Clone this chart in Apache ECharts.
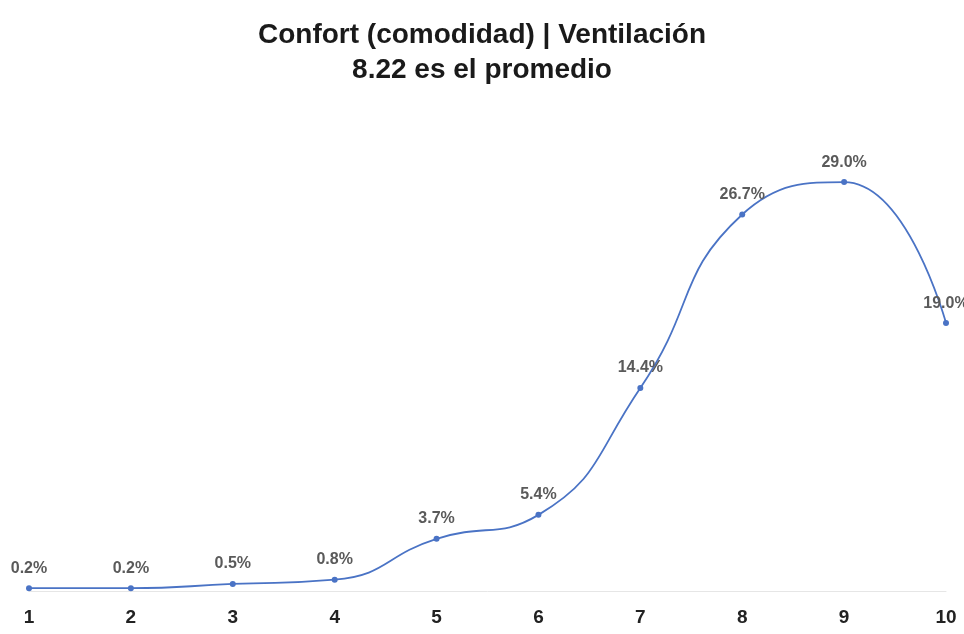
<!DOCTYPE html>
<html style="height: 100%">
<head>
	<meta charset="utf-8">
</head>
<body style="height: 100%; margin: 0; background: #fff">
<div id="container" style="width: 964px; height: 634px"></div>
<script type="text/javascript" src="https://cdn.jsdelivr.net/npm/echarts@6/dist/echarts.min.js"></script>
<script type="text/javascript">
    var categories = ['1', '2', '3', '4', '5', '6', '7', '8', '9', '10'];
    var values = [0.2, 0.2, 0.5, 0.8, 3.7, 5.4, 14.4, 26.7, 29.0, 19.0];

    var myChart = echarts.init(document.getElementById('container'));

    var option = {
        backgroundColor: '#fff',
        title: {
            text: 'Confort (comodidad) | Ventilación\n8.22 es el promedio',
            left: 'center',
            top: 13,
            textStyle: {
                fontFamily: 'Liberation Sans, Arial, sans-serif',
                fontSize: 28,
                fontWeight: 'bold',
                color: '#1a1a1a',
                lineHeight: 35
            }
        },
        grid: {
            left: 29,
            right: 18,
            top: 168,
            bottom: 43
        },
        xAxis: {
            type: 'category',
            data: categories,
            boundaryGap: false,
            axisLine: { show: true, lineStyle: { color: '#e6e6e6' } },
            axisTick: { show: false },
            axisLabel: {
                margin: 17,
                fontFamily: 'Liberation Sans, Arial, sans-serif',
                fontSize: 19,
                fontWeight: 'bold',
                color: '#222'
            }
        },
        yAxis: {
            type: 'value',
            min: 0,
            max: 30,
            show: false
        },
        series: [{
            type: 'line',
            data: values,
            smooth: 0.5,
            symbol: 'circle',
            symbolSize: 6,
            lineStyle: { color: '#4a73c5', width: 1.8 },
            itemStyle: { color: '#4a73c5' },
            label: {
                show: true,
                position: 'top',
                distance: 9,
                formatter: function (p) { return p.value.toFixed(1) + '%'; },
                fontFamily: 'Liberation Sans, Arial, sans-serif',
                fontSize: 16,
                fontWeight: 'bold',
                color: '#5a5a5a'
            }
        }]
    };

    myChart.setOption(option);
</script>
</body>
</html>
